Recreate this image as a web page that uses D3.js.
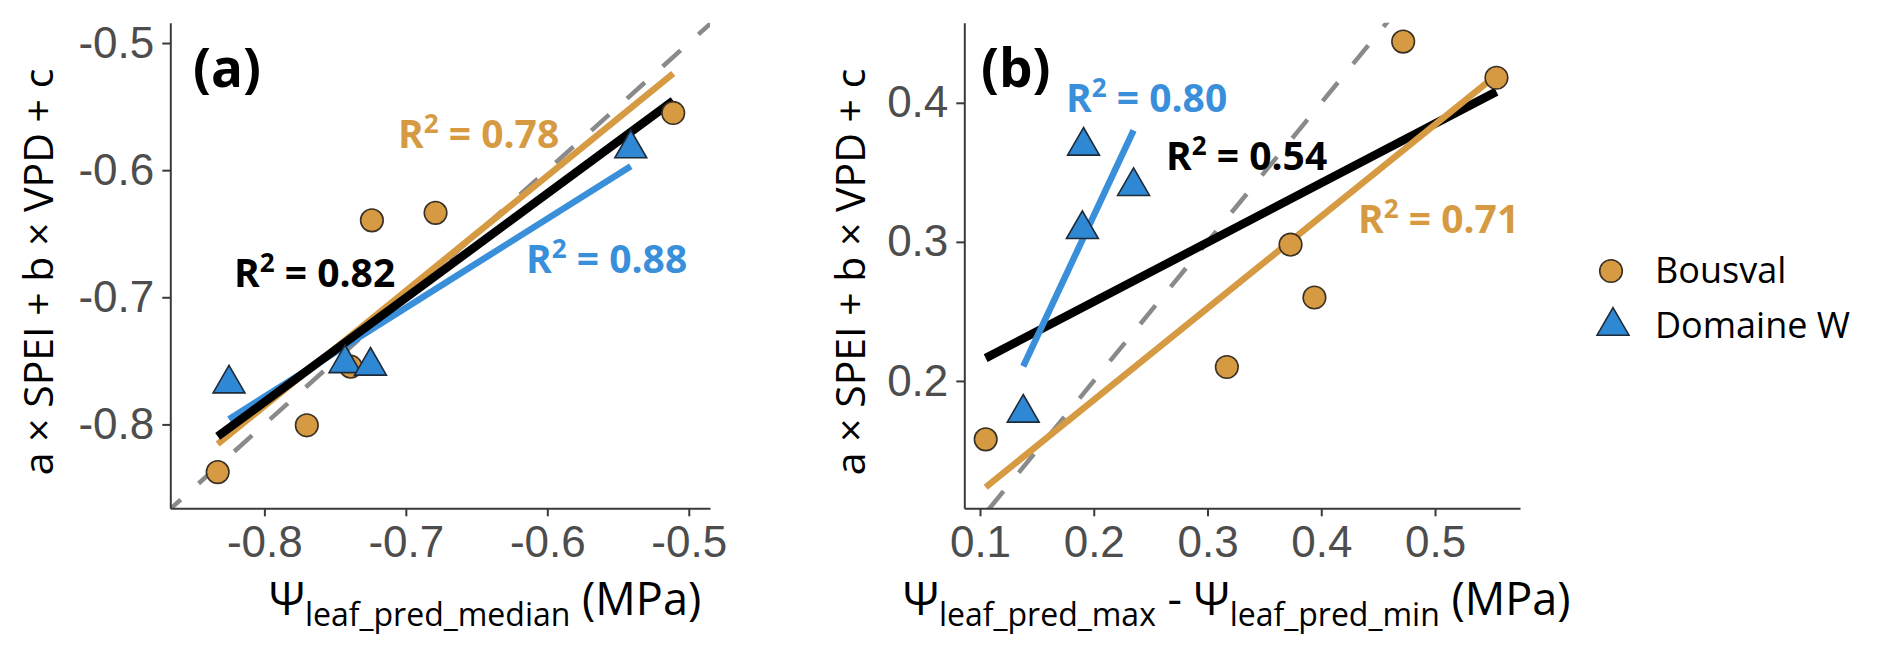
<!DOCTYPE html>
<html>
<head>
<meta charset="utf-8">
<script src="https://cdn.jsdelivr.net/npm/d3@7"></script>
<style>
  body { margin: 0; background: #fff; }
  svg { display: block; }
</style>
</head>
<body>
<div id="chart"></div>
<script>
// site names (legend)
const sites = ["Bousval", "Domaine W"];

// panel (a): median predicted leaf water potential vs model
const medBousvalX = [-0.833, -0.770, -0.739, -0.724, -0.679, -0.511];
const medBousvalY = [-0.8375, -0.8007, -0.7546, -0.6395, -0.6336, -0.555];
const medDomaineX = [-0.825, -0.743, -0.725, -0.541];
const medDomaineY = [-0.768, -0.752, -0.754, -0.583];

// panel (b): range (max - min) of predicted leaf water potential vs model
const rangeBousvalX = [0.105, 0.317, 0.373, 0.394, 0.472, 0.554];
const rangeBousvalY = [0.158, 0.210, 0.298, 0.260, 0.444, 0.418];
const rangeDomaineX = [0.138, 0.190, 0.191, 0.235];
const rangeDomaineY = [0.177, 0.309, 0.369, 0.340];

// R² labels: Bousval, Domaine W, both sites
const r2Median = ["0.78", "0.88", "0.82"];
const r2Range = ["0.71", "0.80", "0.54"];

// tick values
const xTicksA = [-0.8, -0.7, -0.6, -0.5];
const yTicksA = [-0.8, -0.7, -0.6, -0.5];
const xTicksB = [0.1, 0.2, 0.3, 0.4, 0.5];
const yTicksB = [0.2, 0.3, 0.4];

const colBousval = "#d69b42";
const colDomaine = "#2f88d4";
const colBlueLine = "#3a8fdb";
const colAll = "#000000";

const svg = d3.select("#chart").append("svg")
    .attr("width", 1892)
    .attr("height", 655);

function zipPts(xs, ys) {
    return xs.map((x, i) => ({ x: x, y: ys[i] }));
}

// simple least squares fit over the x range of the points
function fitLine(pts) {
    const mx = d3.mean(pts, d => d.x), my = d3.mean(pts, d => d.y);
    const sxy = d3.sum(pts, d => (d.x - mx) * (d.y - my));
    const sxx = d3.sum(pts, d => (d.x - mx) * (d.x - mx));
    const b = sxy / sxx, a = my - b * mx;
    const ext = d3.extent(pts, d => d.x);
    return ext.map(x => ({ x: x, y: a + b * x }));
}

const panels = [
    {
        id: "a", left: 170.3, right: 710, top: 22.7, bottom: 508.3,
        xDomain: [-0.8665, -0.485], yDomain: [-0.866, -0.484],
        xTicks: xTicksA, yTicks: yTicksA,
        bous: zipPts(medBousvalX, medBousvalY), dom: zipPts(medDomaineX, medDomaineY),
        r2: r2Median,
        r2Pos: [[398, 148], [526, 273], [234, 287]],
        lineOrder: ["bous", "dom", "all"],
        tag: [193, 87],
        yTitleX: 53,
        xTitle: [["Ψ", 0], ["leaf_pred_median", 1], [" (MPa)", 0]], xTitleX: 269
    },
    {
        id: "b", left: 964.3, right: 1520, top: 22.7, bottom: 508.3,
        xDomain: [0.0862, 0.5747], yDomain: [0.1084, 0.4576],
        xTicks: xTicksB, yTicks: yTicksB,
        bous: zipPts(rangeBousvalX, rangeBousvalY), dom: zipPts(rangeDomaineX, rangeDomaineY),
        r2: r2Range,
        r2Pos: [[1358, 233], [1066, 112], [1166, 170]],
        lineOrder: ["all", "dom", "bous"],
        tag: [981, 87],
        yTitleX: 865,
        xTitle: [["Ψ", 0], ["leaf_pred_max", 1], [" - ", 0], ["Ψ", 0], ["leaf_pred_min", 1], [" (MPa)", 0]], xTitleX: 903
    }
];

const triangle = d3.symbol().type(d3.symbolTriangle).size(440);

panels.forEach(p => {
    const x = d3.scaleLinear().domain(p.xDomain).range([p.left, p.right]);
    const y = d3.scaleLinear().domain(p.yDomain).range([p.bottom, p.top]);
    const g = svg.append("g");

    const clipId = "clip-" + p.id;
    svg.append("clipPath").attr("id", clipId)
        .append("rect")
        .attr("x", p.left).attr("y", p.top)
        .attr("width", p.right - p.left).attr("height", p.bottom - p.top);

    const line = d3.line().x(d => x(d.x)).y(d => y(d.y));

    // 1:1 line
    const lo = Math.min(p.xDomain[0], p.yDomain[0]), hi = Math.max(p.xDomain[1], p.yDomain[1]);
    g.append("path")
        .attr("clip-path", "url(#" + clipId + ")")
        .attr("d", line([{ x: lo, y: lo }, { x: hi, y: hi }]))
        .attr("fill", "none")
        .attr("stroke", "#8a8a8a")
        .attr("stroke-width", 4.5)
        .attr("stroke-dasharray", "24,24")
        .attr("stroke-dashoffset", 10);

    // regression lines
    const fits = {
        bous: { pts: fitLine(p.bous), color: colBousval, w: 6.5 },
        dom: { pts: fitLine(p.dom), color: colBlueLine, w: 6.5 },
        all: { pts: fitLine(p.bous.concat(p.dom)), color: colAll, w: 8.5 }
    };
    p.lineOrder.forEach(k => {
        g.append("path")
            .attr("d", line(fits[k].pts))
            .attr("fill", "none")
            .attr("stroke", fits[k].color)
            .attr("stroke-width", fits[k].w)
            .attr("stroke-linecap", "butt");
    });

    // points
    g.selectAll("circle.bous").data(p.bous).join("circle")
        .attr("class", "bous")
        .attr("cx", d => x(d.x)).attr("cy", d => y(d.y))
        .attr("r", 11.3)
        .attr("fill", colBousval)
        .attr("stroke", "#3b3024").attr("stroke-width", 1.6);

    g.selectAll("path.dom").data(p.dom).join("path")
        .attr("class", "dom")
        .attr("d", triangle)
        .attr("transform", d => "translate(" + x(d.x) + "," + y(d.y) + ")")
        .attr("fill", colDomaine)
        .attr("stroke", "#1d2a38").attr("stroke-width", 1.6);

    // axes
    const ax = g.append("g")
        .attr("transform", "translate(0," + p.bottom + ")")
        .call(d3.axisBottom(x).tickValues(p.xTicks).tickSize(8).tickSizeOuter(0).tickPadding(9)
            .tickFormat(d3.format(".1f")));
    const ay = g.append("g")
        .attr("transform", "translate(" + p.left + ",0)")
        .call(d3.axisLeft(y).tickValues(p.yTicks).tickSize(8).tickSizeOuter(0).tickPadding(8)
            .tickFormat(d3.format(".1f")));
    [ax, ay].forEach(a => {
        a.select(".domain").attr("stroke", "#3a3a3a").attr("stroke-width", 2);
        a.selectAll(".tick line").attr("stroke", "#3a3a3a").attr("stroke-width", 2);
        a.selectAll(".tick text")
            .attr("fill", "#4d4d4d")
            .style("font-family", "'Liberation Sans', Arial, sans-serif")
            .style("font-size", "44px")
            .text(function () { return this.textContent.replace("−", "-"); });
    });

    // R² labels
    const r2Cols = [colBousval, colBlueLine, "#000"];
    p.r2.forEach((v, i) => {
        const t = g.append("text")
            .attr("x", p.r2Pos[i][0]).attr("y", p.r2Pos[i][1])
            .attr("fill", r2Cols[i])
            .style("font-family", "'Open Sans', sans-serif")
            .style("font-weight", 700)
            .style("font-size", "39px");
        t.append("tspan").text("R");
        t.append("tspan").attr("dy", -15).style("font-size", "26px").text("2");
        t.append("tspan").attr("dy", 15).text(" = " + v);
    });

    // panel tag
    g.append("text")
        .attr("x", p.tag[0]).attr("y", p.tag[1])
        .style("font-family", "'Open Sans', sans-serif")
        .style("font-weight", 700)
        .style("font-size", "53px")
        .text("(" + p.id + ")");

    // y title
    g.append("text")
        .attr("transform", "translate(" + p.yTitleX + ",272) rotate(-90)")
        .attr("text-anchor", "middle")
        .style("font-family", "'Open Sans', sans-serif")
        .style("font-size", "41px")
        .text("a × SPEI + b × VPD + c");

    // x title with subscripts
    const xt = g.append("text")
        .attr("x", p.xTitleX).attr("y", 615)
        .style("font-family", "'Open Sans', sans-serif")
        .style("font-size", "45px");
    let sub = 0;
    p.xTitle.forEach(part => {
        const ts = xt.append("tspan").text(part[0]);
        if (part[1] && !sub) { ts.attr("dy", 11).style("font-size", "32px"); sub = 1; }
        else if (part[1]) { ts.style("font-size", "32px"); }
        else if (sub) { ts.attr("dy", -11); sub = 0; }
    });
});

// legend
const leg = svg.append("g");
leg.append("circle")
    .attr("cx", 1611).attr("cy", 271).attr("r", 11.3)
    .attr("fill", colBousval).attr("stroke", "#3b3024").attr("stroke-width", 1.6);
leg.append("path")
    .attr("d", triangle)
    .attr("transform", "translate(1613,326)")
    .attr("fill", colDomaine).attr("stroke", "#1d2a38").attr("stroke-width", 1.6);
leg.selectAll("text.lab").data(sites).join("text")
    .attr("class", "lab")
    .attr("x", 1655)
    .attr("y", (d, i) => 283 + i * 55)
    .style("font-family", "'Open Sans', sans-serif")
    .style("font-size", "36px")
    .text(d => d);
</script>
</body>
</html>
